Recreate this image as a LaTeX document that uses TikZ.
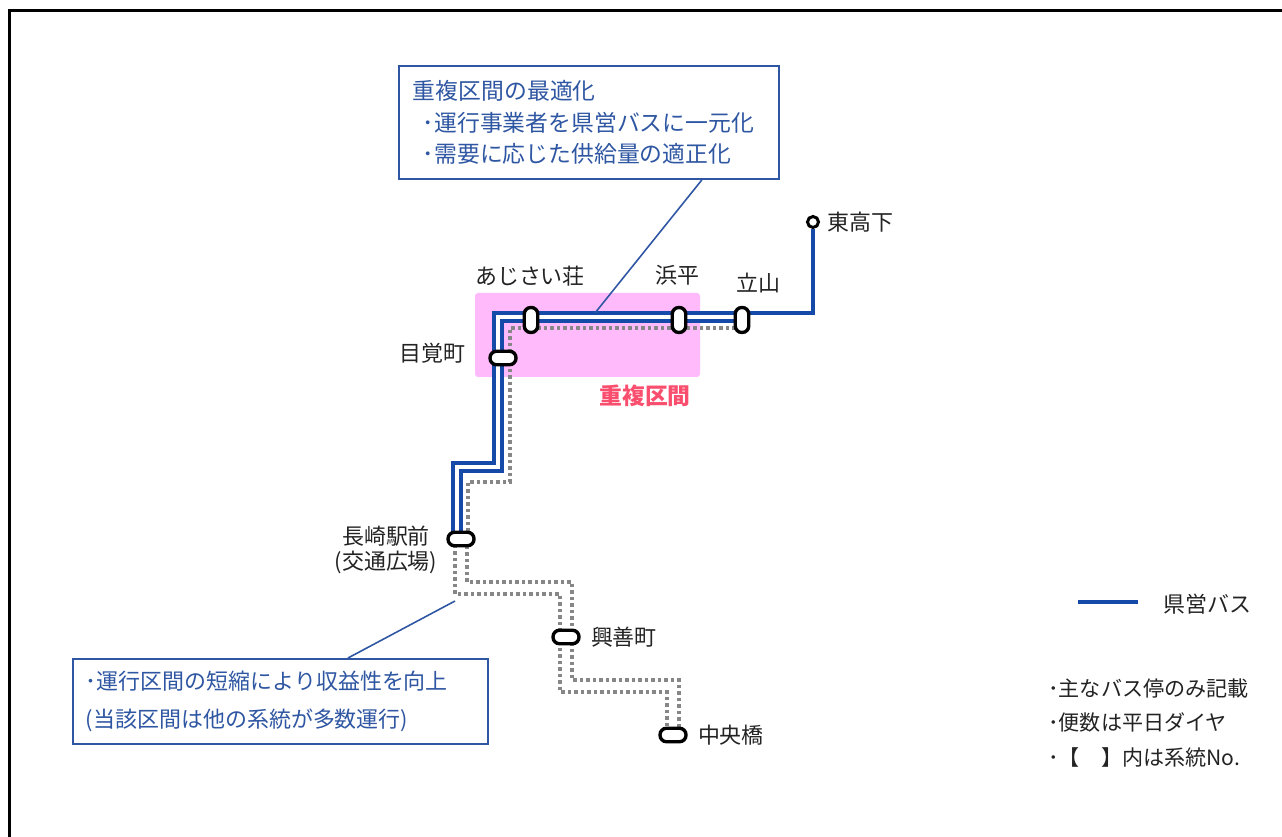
\documentclass[tikz,border=0pt]{standalone}
\usepackage{fontspec}
\setmainfont{Noto Sans CJK JP}
\usepackage{tikz}
\usetikzlibrary{positioning,shapes}
\definecolor{kenblue}{RGB}{22,74,168}
\definecolor{callblue}{RGB}{46,86,162}
\definecolor{dotgray}{RGB}{135,135,135}
\definecolor{duppink}{RGB}{255,186,252}
\definecolor{dupred}{RGB}{250,78,110}
\definecolor{txt}{RGB}{35,35,35}
\begin{document}
\begin{tikzpicture}[x=0.02cm, y=-0.02cm,
      busstop/.style={draw, line width=1.9pt, fill=white, inner sep=0pt, rounded corners=0.13cm},
      hstop/.style={busstop, minimum width=0.52cm, minimum height=0.27cm},
      vstop/.style={busstop, minimum width=0.27cm, minimum height=0.5cm},
      stn/.style={inner sep=0pt, text=txt, font=\fontsize{12.5}{14}\selectfont},
      kenei/.style={kenblue, line width=0.24cm},
      keneigap/.style={white, line width=0.09cm},
      keneione/.style={kenblue, line width=0.085cm},
      otherline/.style={dotgray, line width=0.07cm, dash pattern=on 0.07cm off 0.06cm},
      callbox/.style={draw=callblue, line width=1.1pt, fill=white, text=callblue, align=left, anchor=north west},
      callline/.style={callblue, line width=0.9pt}]
      \useasboundingbox (0, 0) rectangle (1282, 837);
      \draw[line width=0.06cm] (9.5, 900) -- (9.5, 10.5) -- (1300, 10.5);
      \fill[duppink, rounded corners=0.06cm] (475, 293) rectangle (700, 377) node (dup) [pos=.5] {};
      \node[text=dupred, font=\fontsize{13}{15}\selectfont\bfseries, inner sep=0pt] (duptext) at (645, 396) {重複区間};
      \draw[otherline] (742, 328) -| (510, 482) -| (468, 539);
      \foreach \s in {-6, 6}
        \draw[otherline, shift={(\s, -\s)}] (461, 539) |- (566, 588) |- (673, 686) -- (673, 735);
      \draw[kenei] (457, 539) |- (498, 467) |- (742, 317);
      \draw[keneigap] (457, 539) |- (498, 467) |- (742, 317);
      \node[draw, circle, line width=1.7pt, fill=white, minimum size=0.22cm, inner sep=0pt] (higashi) at (813, 222) {};
      \draw[keneione] (742, 313) -| (higashi);
      \node[hstop] (nagasaki) at (461, 539) {};
      \node[hstop] (kozen) at (566, 637) {};
      \node[hstop] (chuo) at (673, 735) {};
      \node[hstop] (mezame) at (503, 358) {};
      \node[vstop] (ajisai) at (531, 320) {};
      \node[vstop] (hamahira) at (679, 320) {};
      \node[vstop] (tateyama) at (742, 320) {};
      \node[stn] (lajisai) at (530, 276) {あじさい荘};
      \node[stn] (lhamahira) at (677, 275) {浜平};
      \node[stn] (ltateyama) at (758, 283) {立山};
      \node[stn, right=0.14cm of higashi] (lhigashi) {東高下};
      \node[stn, anchor=east] (lmezame) at (466, 353) {目覚町};
      \node[stn, align=center, font=\fontsize{12.5}{14.2}\selectfont] (lnagasaki) at (386, 550) {長崎駅前\\(交通広場)};
      \node[stn, right=0.2cm of kozen] (lkozen) {興善町};
      \node[stn, right=0.2cm of chuo] (lchuo) {中央橋};
      \node[callbox, font=\fontsize{13}{18}\selectfont, inner xsep=0.28cm, text width=7.04cm, minimum height=2.26cm] (topbox) at (398, 65)
            {重複区間の最適化\\ \hspace*{0.2cm}･運行事業者を県営バスに一元化\\ \hspace*{0.2cm}･需要に応じた供給量の適正化};
      \node[callbox, font=\fontsize{12.5}{21.5}\selectfont, inner xsep=0.26cm, text width=7.78cm, minimum height=1.7cm] (botbox) at (72, 658)
            {･運行区間の短縮により収益性を向上\\(当該区間は他の系統が多数運行)};
      \coordinate (pinA) at (595, 313);
      \coordinate (pinB) at (455, 601);
      \draw[callline] (topbox.south east) ++(-78, 0) -- (pinA);
      \draw[callline] (botbox.north west) ++(276, 0) -- (pinB);
      \node[stn, anchor=west] (legtext) at (1163, 604) {県営バス};
      \draw[keneione] (legtext.west) ++(-85, -2) -- ++(60, 0);
      \node[stn, anchor=west, align=left, font=\fontsize{12}{19.5}\selectfont] (notes) at (1048, 723)
            {･主なバス停のみ記載\\･便数は平日ダイヤ\\･【　】内は系統No.};
\end{tikzpicture}
\end{document}
